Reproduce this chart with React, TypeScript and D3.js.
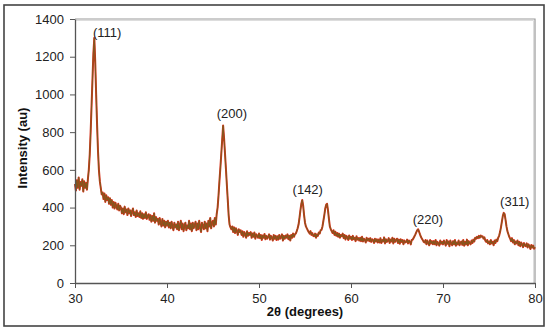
import React, { useEffect, useRef } from 'react';
import * as d3 from 'd3';

// 2θ grid of the scan
const thetaStart = 30;
const thetaStep = 0.1;

// intensity (au), one row per degree, 0.1° apart
const intensity: number[] = [
  525, 490, 545, 505, 560, 495, 535, 515, 550, 485, // 30
  540, 505, 530, 495, 550, 600, 680, 800, 940, 1080, // 31
  1220, 1300, 1170, 1000, 840, 700, 600, 540, 505, 470, // 32
  480, 445, 475, 430, 465, 440, 455, 420, 450, 415, // 33
  440, 400, 430, 395, 425, 405, 390, 420, 385, 410, // 34
  400, 370, 395, 365, 405, 375, 390, 360, 395, 370, // 35
  385, 355, 380, 395, 360, 375, 350, 385, 355, 370, // 36
  350, 380, 345, 370, 340, 365, 345, 375, 340, 355, // 37
  365, 335, 360, 325, 355, 330, 370, 320, 350, 330, // 38
  340, 310, 345, 320, 300, 340, 305, 330, 295, 325, // 39
  305, 330, 295, 320, 290, 325, 300, 280, 320, 295, // 40
  310, 285, 325, 280, 305, 330, 285, 315, 275, 305, // 41
  320, 280, 305, 290, 330, 285, 315, 275, 320, 290, // 42
  305, 325, 280, 315, 285, 330, 295, 270, 320, 300, // 43
  285, 325, 290, 315, 275, 330, 300, 345, 290, 320, // 44
  330, 300, 345, 310, 365, 400, 465, 540, 610, 685, // 45
  760, 835, 770, 690, 610, 525, 445, 360, 310, 295, // 46
  285, 300, 270, 295, 265, 290, 275, 255, 285, 270, // 47
  280, 255, 275, 245, 270, 260, 240, 275, 250, 265, // 48
  255, 270, 240, 262, 245, 268, 235, 258, 250, 240, // 49
  262, 238, 255, 228, 252, 240, 260, 232, 250, 235, // 50
  245, 258, 230, 250, 240, 225, 255, 235, 250, 228, // 51
  248, 230, 255, 235, 242, 258, 225, 250, 235, 252, // 52
  240, 258, 232, 250, 225, 255, 240, 262, 245, 258, // 53
  262, 275, 290, 310, 345, 385, 420, 440, 410, 360, // 54
  320, 300, 290, 280, 270, 262, 275, 255, 265, 250, // 55
  248, 262, 240, 258, 250, 268, 262, 280, 282, 300, // 56
  330, 360, 395, 415, 420, 385, 340, 300, 285, 275, // 57
  265, 280, 255, 272, 250, 265, 245, 262, 240, 255, // 58
  248, 262, 238, 255, 230, 250, 242, 228, 252, 235, // 59
  245, 228, 250, 232, 240, 222, 248, 230, 238, 225, // 60
  240, 222, 245, 220, 235, 228, 215, 240, 225, 235, // 61
  222, 238, 218, 232, 228, 212, 235, 220, 232, 215, // 62
  230, 215, 238, 212, 228, 220, 242, 210, 232, 218, // 63
  225, 238, 212, 230, 220, 240, 210, 235, 218, 228, // 64
  235, 212, 230, 208, 232, 218, 228, 205, 225, 215, // 65
  218, 230, 210, 225, 218, 205, 228, 230, 238, 248, // 66
  258, 270, 280, 285, 272, 258, 245, 235, 228, 218, // 67
  215, 228, 205, 225, 212, 200, 228, 210, 222, 205, // 68
  222, 205, 228, 200, 218, 210, 198, 225, 208, 218, // 69
  205, 225, 212, 198, 228, 208, 220, 195, 225, 210, // 70
  200, 222, 205, 228, 198, 215, 205, 225, 200, 215, // 71
  220, 202, 228, 198, 218, 205, 230, 200, 222, 210, // 72
  205, 225, 212, 230, 220, 240, 235, 245, 238, 250, // 73
  240, 252, 245, 248, 235, 242, 225, 218, 228, 210, // 74
  220, 205, 228, 210, 218, 200, 225, 212, 230, 222, // 75
  240, 250, 270, 295, 325, 355, 372, 365, 335, 300, // 76
  275, 260, 245, 235, 222, 238, 215, 228, 205, 220, // 77
  210, 225, 200, 218, 195, 215, 205, 190, 212, 198, // 78
  195, 210, 188, 205, 195, 180, 202, 188, 198, 182, // 79
  190, // 80
];

const xTicks = [30, 40, 50, 60, 70, 80];
const yTicks = [0, 200, 400, 600, 800, 1000, 1200, 1400];

const peakLabels = ['(111)', '(200)', '(142)', '(220)', '(311)'];
const peakTheta = [33.5, 47.05, 55.3, 68.35, 77.8];
const peakValue = [1305, 875, 470, 313, 408];

export default function App() {
  const svgRef = useRef<SVGSVGElement>(null);

  useEffect(() => {
    if (!svgRef.current) return;
    const svg = d3.select(svgRef.current);
    svg.selectAll('*').remove();

    const left = 75, right = 535, top = 19, bottom = 283;

    const x = d3.scaleLinear().domain([30, 80]).range([left, right]);
    const y = d3.scaleLinear().domain([0, 1400]).range([bottom, top]);

    svg.append('rect')
      .attr('x', 0).attr('y', 0).attr('width', 550).attr('height', 332)
      .attr('fill', '#fff');

    // outer frame
    svg.append('rect')
      .attr('x', 4).attr('y', 5).attr('width', 540).attr('height', 321)
      .attr('fill', 'none').attr('stroke', '#444').attr('stroke-width', 1.6);

    // plot frame (top & right)
    svg.append('path')
      .attr('d', `M${left},${top}H${right}V${bottom}`)
      .attr('fill', 'none').attr('stroke', '#999').attr('stroke-width', 1.2);
    svg.append('path')
      .attr('d', `M${left},${top + 1.5}H${right - 1.5}V${bottom}`)
      .attr('fill', 'none').attr('stroke', '#ddd').attr('stroke-width', 1);

    const pts = intensity.map((v, i) => [thetaStart + i * thetaStep, v] as [number, number]);
    const line = d3.line<[number, number]>().x(d => x(d[0])).y(d => y(d[1]));

    svg.append('path').datum(pts)
      .attr('d', line).attr('fill', 'none')
      .attr('stroke', '#d8321a').attr('stroke-width', 2).attr('stroke-linejoin', 'round');
    svg.append('path').datum(pts)
      .attr('d', line).attr('fill', 'none')
      .attr('stroke', '#7d5a1e').attr('stroke-width', 1).attr('stroke-linejoin', 'round');

    const font = '"Liberation Sans", Arial, sans-serif';

    // x axis
    const gx = svg.append('g')
      .attr('transform', `translate(0,${bottom})`)
      .call(d3.axisBottom(x).tickValues(xTicks).tickFormat(d3.format('d')).tickSize(5).tickPadding(6).tickSizeOuter(0));
    gx.select('.domain').attr('stroke', '#555').attr('stroke-width', 1.3);
    gx.selectAll('.tick line').attr('stroke', '#555');
    gx.selectAll('.tick text').attr('font-family', font).attr('font-size', 13).attr('fill', '#222');

    // y axis
    const gy = svg.append('g')
      .attr('transform', `translate(${left},0)`)
      .call(d3.axisLeft(y).tickValues(yTicks).tickFormat(d3.format('d')).tickSize(5).tickPadding(6).tickSizeOuter(0));
    gy.select('.domain').attr('stroke', '#555').attr('stroke-width', 1.3);
    gy.selectAll('.tick line').attr('stroke', '#555');
    gy.selectAll('.tick text').attr('font-family', font).attr('font-size', 13).attr('fill', '#222');

    // peak labels
    svg.selectAll('.peak')
      .data(peakLabels)
      .enter()
      .append('text')
      .attr('class', 'peak')
      .attr('x', (_, i) => x(peakTheta[i]))
      .attr('y', (_, i) => y(peakValue[i]))
      .attr('text-anchor', 'middle')
      .attr('font-family', font)
      .attr('font-size', 13)
      .attr('fill', '#222')
      .text(d => d);

    svg.append('text')
      .attr('x', 305).attr('y', 316)
      .attr('text-anchor', 'middle')
      .attr('font-family', font).attr('font-size', 13).attr('font-weight', 'bold')
      .attr('fill', '#111')
      .text('2θ (degrees)');

    svg.append('text')
      .attr('transform', 'translate(27,148) rotate(-90)')
      .attr('text-anchor', 'middle')
      .attr('font-family', font).attr('font-size', 13).attr('font-weight', 'bold')
      .attr('fill', '#111')
      .text('Intensity (au)');
  }, []);

  return (
    <svg
      ref={svgRef}
      width={550}
      height={332}
      style={{ position: 'absolute', left: 0, top: 0, display: 'block' }}
    />
  );
}
